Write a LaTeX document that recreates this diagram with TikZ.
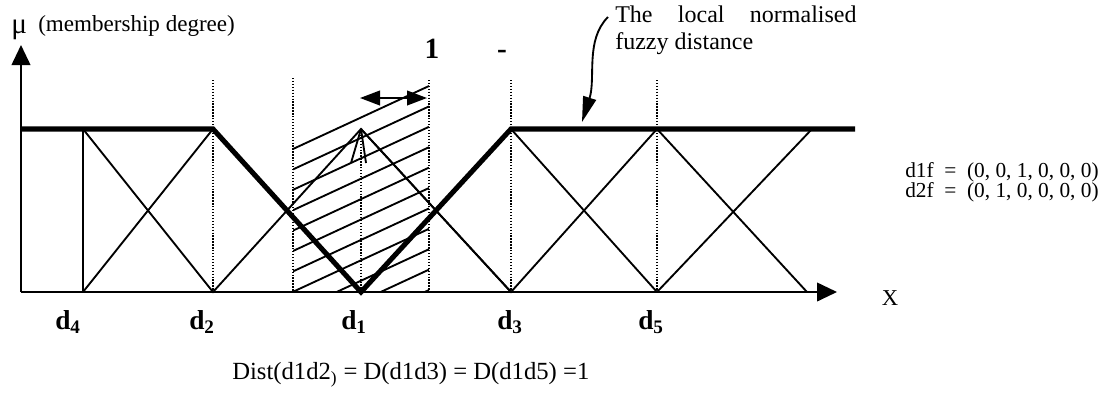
\documentclass[tikz,border=0pt]{standalone}
\usepackage{fontspec}
\setmainfont{Liberation Serif}
\usetikzlibrary{arrows.meta}
\begin{document}
\begin{tikzpicture}[x=0.75pt,y=-0.75pt,
  fline/.style={line width=1.4pt, line join=miter},
  bline/.style={line width=3.8pt, line join=miter},
  dline/.style={line width=0.8pt, dash pattern=on 1pt off 1.2pt},
  hline/.style={line width=1.4pt},
  axis/.style={line width=1.4pt, -{Triangle[length=15pt,width=14pt]}},
  lbl/.style={inner sep=0pt, anchor=base west, font=\fontsize{20.5}{22}\selectfont\bfseries},
  txt/.style={inner sep=0pt, anchor=base west}]
\useasboundingbox (0,0) rectangle (1108,394);
% key points
\coordinate (O) at (21,292);
\coordinate (Ytip) at (21,45);
\coordinate (Xtip) at (837,292);
\coordinate (T0) at (21,129);
\coordinate (A4t) at (83,129);   \coordinate (A4b) at (83,292);
\coordinate (A2t) at (213,129);  \coordinate (A2b) at (213,292);
\coordinate (A1t) at (361,129);  \coordinate (A1b) at (361,292);
\coordinate (A3t) at (511,129);  \coordinate (A3b) at (511,292);
\coordinate (A5t) at (657,129);  \coordinate (A5b) at (657,292);
\coordinate (A6t) at (812,129);  \coordinate (A6b) at (807,292);
\coordinate (Tend) at (855,129);
% hatched band
\begin{scope}
\clip (293,60) rectangle (429,292);
\foreach \k in {0,...,10}{
  \draw[hline] (293,{149+20.4*\k}) -- (429,{86+20.4*\k});
}
\end{scope}
% dotted guides
\foreach \xx/\yy in {213/80, 293/78, 429/80, 511/80, 657/80}{
  \draw[dline] (\xx,\yy) -- (\xx,292);
}
\draw[dline] (A1t) -- (A1b);
% membership triangles (thin)
\draw[fline] (A4t) -- (A4b);
\draw[fline] (A4t) -- (A2b) -- (A1t) -- (A3b) -- (A5t) -- (A6b);
\draw[fline] (A4b) -- (A2t);
\draw[fline] (A3b) -- (A1t);
\draw[fline] (A5b) -- (A6t);
\draw[fline] (A3t) -- (A5b);
% little open head at the peak of d1
\draw[fline] (A1t) -- (351,163);
\draw[fline] (A1t) -- (366,163);
% bold local distance
\draw[bline] (T0) -- (A2t) -- (A1b) -- (A3t) -- (Tend);
% axes
\draw[axis] (O) -- (Ytip);
\draw[axis] (O) -- (Xtip);
% double arrow
\coordinate (DA) at (360,98);
\coordinate (DB) at (427,98);
\draw[line width=1.4pt, {Triangle[length=15pt,width=11pt]}-{Triangle[length=15pt,width=11pt]}] (DA) -- (DB);
% pointer to bold line
\coordinate (P0) at (608,17);
\coordinate (P1) at (582,122);
\draw[line width=1.4pt, -{Triangle[length=19pt,width=10pt]}] (P0) .. controls (585,40) and (596,78) .. (P1);
% texts
\node[txt, font=\fontsize{22}{24}\selectfont] (mu) at (11,33) {μ};
\node[txt, font=\fontsize{17.3}{19}\selectfont] (ylab) at (38,31) {(membership\ degree)};
\node[inner sep=0pt, anchor=base, font=\fontsize{22}{24}\selectfont\bfseries] (one) at (432,58) {1};
\node[inner sep=0pt, anchor=base, font=\fontsize{22}{24}\selectfont\bfseries] (dash) at (502,58) {-};
\node[txt, font=\fontsize{18}{20}\selectfont] (t1) at (615,22) {\makebox[181pt][s]{The local normalised}};
\node[txt, font=\fontsize{18}{20}\selectfont] (t2) at (615,49) {fuzzy distance};
\node[txt, font=\fontsize{16}{18}\selectfont] (f1) at (905,177) {d1f\ \ =\ \ (0, 0, 1, 0, 0, 0)};
\node[txt, font=\fontsize{16}{18}\selectfont] (f2) at (905,197) {d2f\ \ =\ \ (0, 1, 0, 0, 0,\ 0)};
\node[inner sep=0pt, font=\fontsize{17}{19}\selectfont] (xl) at (890,298) {X};
\node[lbl] (l4) at (55,329) {d\textsubscript{4}};
\node[lbl] (l2) at (189,329) {d\textsubscript{2}};
\node[lbl] (l1) at (341,329) {d\textsubscript{1}};
\node[lbl] (l3) at (497,329) {d\textsubscript{3}};
\node[lbl] (l5) at (638,329) {d\textsubscript{5}};
\node[txt, font=\fontsize{18.5}{20}\selectfont] (form) at (232,379) {Dist(d1d2\textsubscript{)} = D(d1d3) = D(d1d5) =1};
\end{tikzpicture}
\end{document}
